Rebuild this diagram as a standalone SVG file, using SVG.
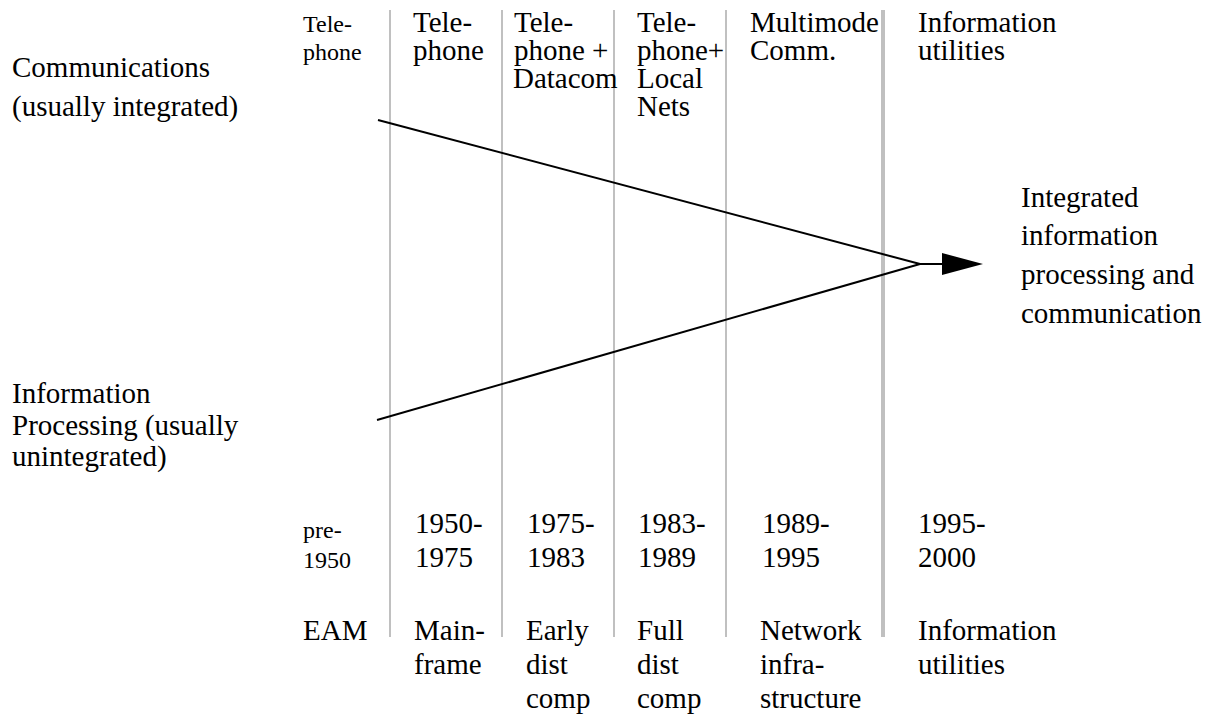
<svg xmlns="http://www.w3.org/2000/svg" width="1210" height="715" viewBox="0 0 1210 715">
<style>
text{font-family:"Liberation Serif","Times New Roman",serif;fill:#000;}
.l{font-size:29px;}
.s{font-size:24px;}
.div{stroke:#c0c0c0;stroke-width:2;fill:none;}
.div2{stroke:#c0c0c0;stroke-width:4;fill:none;}
.con{stroke:#000;stroke-width:2;fill:none;}
</style>
<defs>
<marker id="ah" markerWidth="10" markerHeight="10" refX="0" refY="5" orient="auto" markerUnits="userSpaceOnUse" viewBox="0 0 10 10">
<path d="M0,0 L10,5 L0,10 Z" fill="#000"/>
</marker>
</defs>
<rect width="1210" height="715" fill="#fff"/>
<g id="dividers">
<line class="div" x1="390" y1="10" x2="390" y2="637"/>
<line class="div" x1="502" y1="10" x2="502" y2="637"/>
<line class="div" x1="614" y1="10" x2="614" y2="637"/>
<line class="div" x1="726" y1="10" x2="726" y2="637"/>
<line class="div2" x1="883" y1="10" x2="883" y2="637"/>
</g>
<g id="connectors">
<line class="con" x1="378" y1="120" x2="920" y2="264"/>
<line class="con" x1="377" y1="420" x2="920" y2="264"/>
<line class="con" x1="919" y1="264" x2="943" y2="264"/>
<path d="M942,253 L983,264 L942,275 Z" fill="#000"/>
</g>
<g id="communications"><text class="l" x="12" y="77">Communications</text><text class="l" x="12" y="116">(usually integrated)</text></g>
<g id="infoproc"><text class="l" x="12" y="403">Information</text><text class="l" x="12" y="435">Processing (usually</text><text class="l" x="12" y="466">unintegrated)</text></g>
<g id="integrated"><text class="l" x="1021" y="207">Integrated</text><text class="l" x="1021" y="245">information</text><text class="l" x="1021" y="284">processing and</text><text class="l" x="1021" y="323">communication</text></g>
<g id="h1"><text class="s" x="303" y="32">Tele-</text><text class="s" x="303" y="60">phone</text></g>
<g id="h2"><text class="l" x="413" y="32">Tele-</text><text class="l" x="413" y="60">phone</text></g>
<g id="h3"><text class="l" x="514" y="32">Tele-</text><text class="l" x="514" y="60">phone +</text><text class="l" x="513" y="88">Datacom</text></g>
<g id="h4"><text class="l" x="637" y="32">Tele-</text><text class="l" x="637" y="60">phone+</text><text class="l" x="637" y="88">Local</text><text class="l" x="637" y="116">Nets</text></g>
<g id="h5"><text class="l" x="750" y="32">Multimode</text><text class="l" x="750" y="60">Comm.</text></g>
<g id="h6"><text class="l" x="918" y="32">Information</text><text class="l" x="918" y="60">utilities</text></g>
<g id="d1"><text class="s" x="303" y="538">pre-</text><text class="s" x="303" y="568">1950</text></g>
<g id="d2"><text class="l" x="415" y="533">1950-</text><text class="l" x="415" y="567">1975</text></g>
<g id="d3"><text class="l" x="527" y="533">1975-</text><text class="l" x="527" y="567">1983</text></g>
<g id="d4"><text class="l" x="638" y="533">1983-</text><text class="l" x="638" y="567">1989</text></g>
<g id="d5"><text class="l" x="762" y="533">1989-</text><text class="l" x="762" y="567">1995</text></g>
<g id="d6"><text class="l" x="918" y="533">1995-</text><text class="l" x="918" y="567">2000</text></g>
<g id="b1"><text class="l" x="303" y="640">EAM</text></g>
<g id="b2"><text class="l" x="414" y="640">Main-</text><text class="l" x="414" y="674">frame</text></g>
<g id="b3"><text class="l" x="526" y="640">Early</text><text class="l" x="526" y="674">dist</text><text class="l" x="526" y="708">comp</text></g>
<g id="b4"><text class="l" x="637" y="640">Full</text><text class="l" x="637" y="674">dist</text><text class="l" x="637" y="708">comp</text></g>
<g id="b5"><text class="l" x="760" y="640">Network</text><text class="l" x="760" y="674">infra-</text><text class="l" x="760" y="708">structure</text></g>
<g id="b6"><text class="l" x="918" y="640">Information</text><text class="l" x="918" y="674">utilities</text></g>
</svg>
